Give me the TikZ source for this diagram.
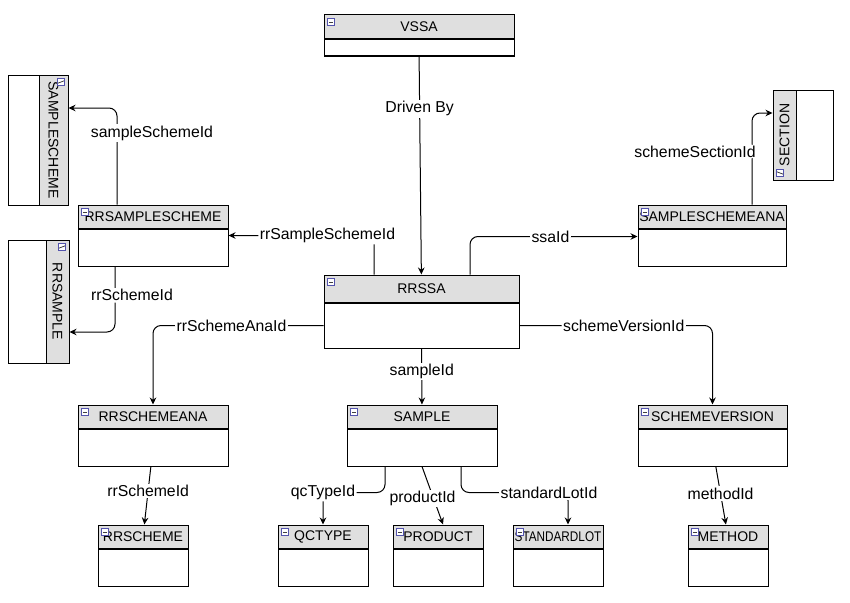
\documentclass[tikz,border=0pt]{standalone}
\usepackage{fontspec}
\setmainfont{Liberation Sans}
\usetikzlibrary{positioning, arrows.meta, calc}

\begin{document}
\begin{tikzpicture}[
    x=1pt, y=-1pt, line width=1pt,
    >={Stealth[length=7pt, width=6.5pt]},
    head/.style={draw, fill=gray!25, minimum height=23, inner xsep=1pt, inner ysep=2pt, font=\fontsize{14}{16}\selectfont},
    body/.style={draw, fill=white, minimum height=37},
    tog/.style={draw=blue!35!gray, fill=white, minimum size=7, inner sep=0pt, line width=0.6pt,
        path picture={\draw[line width=0.8pt, black!75] ([xshift=1.3pt]path picture bounding box.west) -- ([xshift=-1.3pt]path picture bounding box.east);}},
    link/.style={->, rounded corners=8pt},
    edge_label/.style={fill=white, inner sep=1.5pt, font=\fontsize{15.8}{18}\selectfont}
]

\path[use as bounding box, fill=white] (0,0) rectangle (850,602);

% ================= Nodes =================

% Top: view and main table
\node[head, minimum width=190, minimum height=24] (vssa_h) at (419, 27) {VSSA};
\node[body, minimum width=190, minimum height=16, below=0pt of vssa_h] (vssa_b) {};

\node[head, minimum width=195, minimum height=27] (rrssa_h) at (421.5, 288.5) {RRSSA};
\node[body, minimum width=195, minimum height=45, below=0pt of rrssa_h] (rrssa_b) {};

% Left side: scheme tables (two of them turned on their side)
\node[head, rotate=-90, minimum width=130, minimum height=29] (ssch_h) at (53.5, 140) {SAMPLESCHEME};
\node[body, minimum width=31, minimum height=130] (ssch_b) at (23.5, 140) {};

\node[head, minimum width=150] (rrsch_h) at (153, 216.5) {RRSAMPLESCHEME};
\node[body, minimum width=150, below=0pt of rrsch_h] (rrsch_b) {};

\node[head, rotate=-90, minimum width=123] (rrsmp_h) at (57.5, 301.5) {RRSAMPLE};
\node[body, minimum width=38, minimum height=123] (rrsmp_b) at (27, 301.5) {};

% Right side: scheme analysis and section
\node[head, minimum width=148] (ssana_h) at (712, 216.5) {SAMPLESCHEMEANA};
\node[body, minimum width=148, below=0pt of ssana_h] (ssana_b) {};

\node[head, rotate=90, minimum width=90] (sect_h) at (784.5, 135) {SECTION};
\node[body, minimum width=37, minimum height=90] (sect_b) at (814.5, 135) {};

% Middle row
\node[head, minimum width=150] (rrscha_h) at (153, 416.5) {RRSCHEMEANA};
\node[body, minimum width=150, below=0pt of rrscha_h] (rrscha_b) {};

\node[head, minimum width=150] (sample_h) at (422, 416.5) {SAMPLE};
\node[body, minimum width=150, below=0pt of sample_h] (sample_b) {};

\node[head, minimum width=149] (schv_h) at (712.5, 416.5) {SCHEMEVERSION};
\node[body, minimum width=149, below=0pt of schv_h] (schv_b) {};

% Bottom row: lookup tables
\node[head, minimum width=90] (rrschm_h) at (143, 536.5) {RRSCHEME};
\node[body, minimum width=90, below=0pt of rrschm_h] (rrschm_b) {};

\node[head, minimum width=90] (qct_h) at (323, 536.5) {QCTYPE};
\node[body, minimum width=90, below=0pt of qct_h] (qct_b) {};

\node[head, minimum width=90] (prod_h) at (438, 536.5) {PRODUCT};
\node[body, minimum width=90, below=0pt of prod_h] (prod_b) {};

\node[head, minimum width=90] (stdl_h) at (558, 536.5) {\scalebox{0.84}[1]{STANDARDLOT}};
\node[body, minimum width=90, below=0pt of stdl_h] (stdl_b) {};

\node[head, minimum width=80] (meth_h) at (728, 536.5) {METHOD};
\node[body, minimum width=80, below=0pt of meth_h] (meth_b) {};

% Collapse icons in the headers
\foreach \n in {vssa, rrssa, rrsch, ssana, rrscha, sample, schv, rrschm, qct, prod, stdl, meth}
    \node[tog] at ([shift={(7.5,7.5)}]\n_h.north west) {};
\node[tog, rotate=-90] at ([shift={(-7.5,7.5)}]ssch_h.north west) {};
\node[tog, rotate=-90] at ([shift={(-7.5,7.5)}]rrsmp_h.north west) {};
\node[tog, rotate=90] at ([shift={(7.5,-7.5)}]sect_h.north west) {};

% ================= Edges =================

% View to main table
\draw[->] (vssa_b) -- (rrssa_h) node[edge_label, pos=0.24] {Driven By};

% Upper left
\draw[link] ([xshift=-47.5]rrssa_h.north) |- ([shift={(0,7)}]rrsch_b.north east) node[edge_label, pos=0.66] {rrSampleSchemeId};
\draw[link] ([xshift=-36]rrsch_h.north) |- ([shift={(0,-32)}]ssch_h.north) node[edge_label, pos=0.37, xshift=35] {sampleSchemeId};
\draw[link] ([xshift=-38]rrsch_b.south) |- ([shift={(0,30.5)}]rrsmp_h.north) node[edge_label, pos=0.22, xshift=17] {rrSchemeId};

% Upper right
\draw[link] ([xshift=48.5]rrssa_h.north) |- ([shift={(0,8)}]ssana_b.north west) node[edge_label, pos=0.74] {ssaId};
\draw[link] ([xshift=40]ssana_h.north) |- ([shift={(0,-22)}]sect_h.north) node[edge_label, pos=0.29, xshift=-57] {schemeSectionId};

% Main table down to the middle row
\draw[link] (rrssa_b.west) -| (rrscha_h.north) node[edge_label, pos=0.27] {rrSchemeAnaId};
\draw[link] (rrssa_b.east) -| (schv_h.north) node[edge_label, pos=0.27] {schemeVersionId};
\draw[->] (rrssa_b) -- (sample_h) node[edge_label, pos=0.41] {sampleId};

% Middle row down to the lookups
\draw[->] (rrscha_b) -- (rrschm_h) node[edge_label, pos=0.42] {rrSchemeId};
\draw[link] ([xshift=-37]sample_b.south) |- ([shift={(0,-32)}]qct_h.north) node[edge_label] {qcTypeId} -- (qct_h.north);
\draw[->] (sample_b.south) -- ([xshift=5]prod_h.north) node[edge_label, pos=0.55, xshift=-11] {productId};
\draw[link] ([xshift=39]sample_b.south) |- ([shift={(10,-32)}]stdl_h.north) node[edge_label, xshift=-19] {standardLotId} -- ([xshift=10]stdl_h.north);
\draw[->] (schv_b) -- (meth_h) node[edge_label, pos=0.47] {methodId};

\end{tikzpicture}
\end{document}
